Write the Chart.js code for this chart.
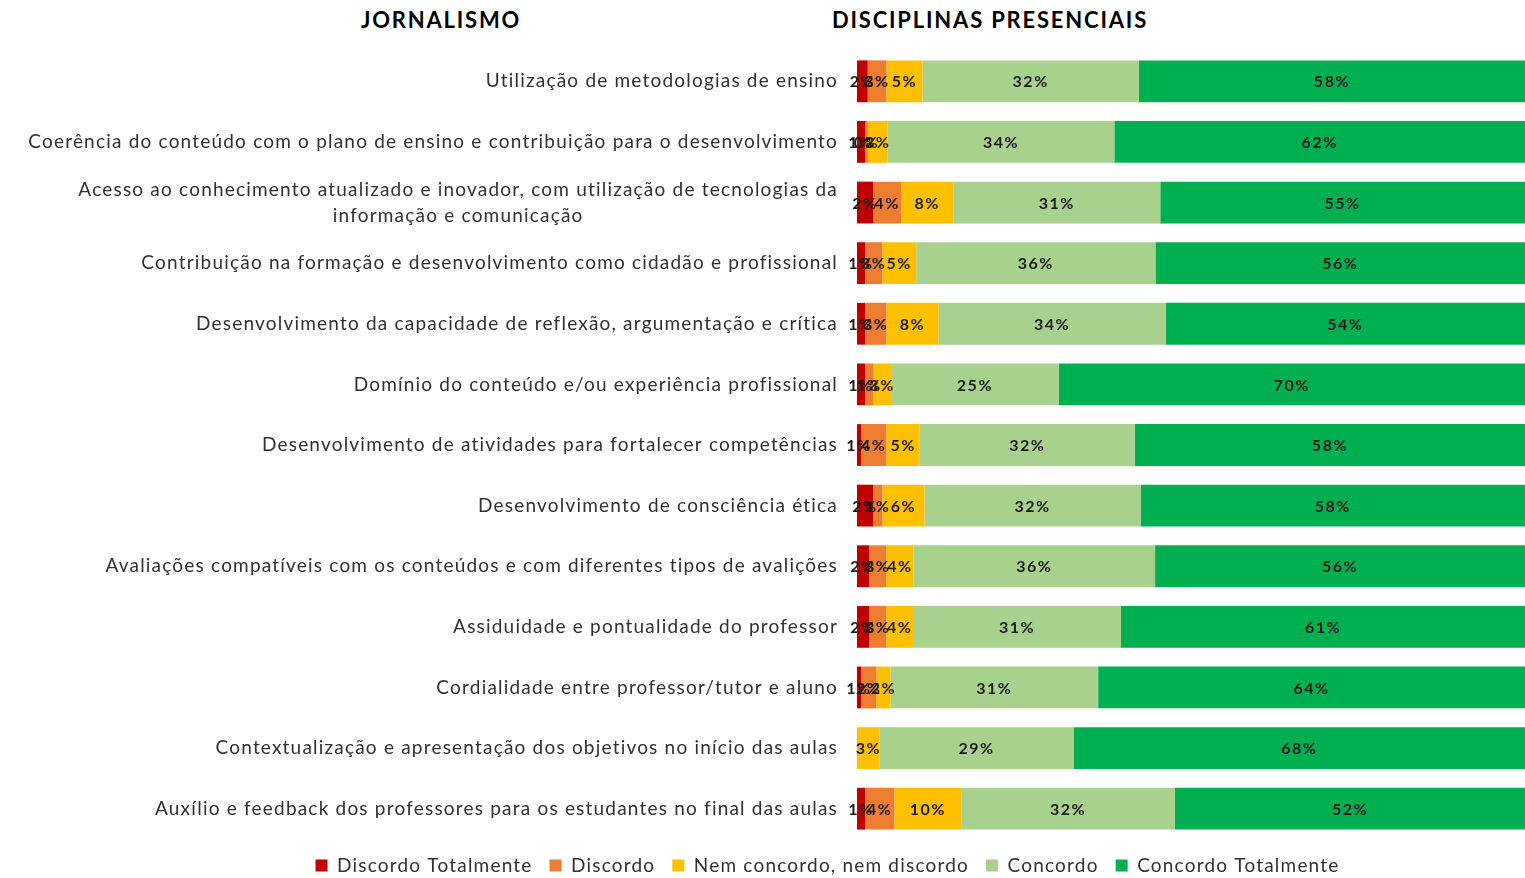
<!DOCTYPE html>
<html><head><meta charset="utf-8">
<script src="https://cdn.jsdelivr.net/npm/chart.js@4"></script>
<style>
html,body{margin:0;padding:0;background:#fff;overflow:hidden;width:1525px;height:878px;}
#wrap{position:relative;width:1525px;height:878px;overflow:hidden;}
canvas{position:absolute;left:0;top:0;}
.t{position:absolute;top:6px;font-family:Lato,"Noto Sans",sans-serif;font-weight:bold;font-size:22px;letter-spacing:1.8px;color:#000;transform:translateX(-50%);white-space:nowrap;}
</style></head>
<body><div id="wrap">
<div class="t" style="left:441px">JORNALISMO</div>
<div class="t" style="left:990px">DISCIPLINAS PRESENCIAIS</div>
<canvas id="c" width="1525" height="885"></canvas>
</div>
<script>
const categories = [
  ["Utilização de metodologias de ensino"],
  ["Coerência do conteúdo com o plano de ensino e contribuição para o desenvolvimento"],
  ["Acesso ao conhecimento atualizado e inovador, com utilização de tecnologias da","informação e comunicação"],
  ["Contribuição na formação e desenvolvimento como cidadão e profissional"],
  ["Desenvolvimento da capacidade de reflexão, argumentação e crítica"],
  ["Domínio do conteúdo e/ou experiência profissional"],
  ["Desenvolvimento de atividades para fortalecer competências"],
  ["Desenvolvimento de consciência ética"],
  ["Avaliações compatíveis com os conteúdos e com diferentes tipos de avalições"],
  ["Assiduidade e pontualidade do professor"],
  ["Cordialidade entre professor/tutor e aluno"],
  ["Contextualização e apresentação dos objetivos no início das aulas"],
  ["Auxílio e feedback dos professores para os estudantes no final das aulas"]
];
const seriesNames = ["Discordo Totalmente","Discordo","Nem concordo, nem discordo","Concordo","Concordo Totalmente"];
const discordoTotalmente = [1.6, 1.2, 2.4, 1.2, 1.2, 1.2, 0.6, 2.4, 1.8, 1.8, 0.6, 0, 1.2];
const discordo          = [2.8, 0.4, 4.2, 2.6, 3.2, 1.2, 3.8, 1.4, 2.6, 2.6, 2.3, 0, 4.4];
const nemConcordo       = [5.4, 3.0, 7.8, 5.1, 7.8, 2.7, 5.0, 6.3, 4.1, 4.0, 2.1, 3.4, 10.0];
const concordo          = [32.4, 34.0, 31.0, 36.0, 34.0, 25.1, 32.2, 32.4, 36.3, 31.2, 31.1, 29.0, 32.0];
const concordoTotalmente= [57.8, 61.6, 54.6, 55.6, 53.8, 69.8, 58.4, 57.6, 55.6, 60.6, 63.9, 67.6, 52.4];
const colors = ["#C00000","#ED7D31","#FFC000","#A9D18E","#00B050"];

const raw = [discordoTotalmente, discordo, nemConcordo, concordo, concordoTotalmente];
const totals = categories.map((_, i) => raw.reduce((s, a) => s + a[i], 0));
const datasets = raw.map((arr, k) => ({
  label: seriesNames[k],
  data: arr.map((v, i) => v / totals[i] * 100),
  rawData: arr,
  backgroundColor: colors[k],
  borderWidth: 0,
  categoryPercentage: 0.69,
  barPercentage: 1
}));

const FONT = 'Lato, "Noto Sans", sans-serif';
const AXIS_LEFT = 130;
const PLOT_LEFT = 857;
const SPACING = '1.2px';

const labelPlugin = {
  id: 'labels',
  beforeLayout(chart) { chart.ctx.letterSpacing = SPACING; },
  beforeDraw(chart) { chart.ctx.letterSpacing = SPACING; },
  afterDatasetsDraw(chart) {
    const ctx = chart.ctx;
    ctx.save();
    ctx.letterSpacing = '1.5px';
    ctx.font = 'bold 16px ' + FONT;
    ctx.fillStyle = '#1a1a1a';
    ctx.textAlign = 'center';
    ctx.textBaseline = 'middle';
    chart.data.datasets.forEach((ds, k) => {
      const meta = chart.getDatasetMeta(k);
      meta.data.forEach((bar, i) => {
        const v = ds.rawData[i];
        if (v === 0) return;
        const cx = (bar.base + bar.x) / 2;
        ctx.fillText(Math.round(v) + '%', cx, bar.y + 1);
      });
    });
    ctx.restore();
  },
  afterDraw(chart) {
    const ctx = chart.ctx;
    const y = chart.scales.y;
    const right = chart.chartArea.left - 19;
    ctx.save();
    ctx.letterSpacing = SPACING;
    ctx.font = '19px ' + FONT;
    ctx.fillStyle = '#303030';
    ctx.textBaseline = 'middle';
    categories.forEach((lines, i) => {
      const cy = y.getPixelForValue(i);
      const lh = 26;
      if (lines.length === 1) {
        ctx.textAlign = 'right';
        ctx.fillText(lines[0], right, cy);
      } else {
        const w = Math.max(...lines.map(l => ctx.measureText(l).width));
        const cx = right - w / 2;
        ctx.textAlign = 'center';
        lines.forEach((l, j) => ctx.fillText(l, cx, cy + (j - (lines.length - 1) / 2) * lh));
      }
    });
    ctx.restore();
  }
};

new Chart(document.getElementById('c'), {
  type: 'bar',
  data: { labels: categories.map(c => c.join(' ')), datasets },
  options: {
    indexAxis: 'y',
    responsive: false,
    animation: false,
    layout: { padding: { left: AXIS_LEFT, right: 0, top: 51, bottom: 0 } },
    scales: {
      x: { stacked: true, min: 0, max: 100, display: false },
      y: {
        stacked: true,
        grid: { display: false },
        border: { display: false },
        ticks: { display: false },
        afterFit(scale) { scale.width = PLOT_LEFT - AXIS_LEFT; }
      }
    },
    plugins: {
      legend: {
        position: 'bottom',
        labels: {
          font: { family: FONT, size: 19 },
          color: '#303030',
          boxWidth: 12,
          boxHeight: 12,
          padding: 17
        }
      },
      tooltip: { enabled: false }
    }
  },
  plugins: [labelPlugin]
});
</script>
</body></html>
